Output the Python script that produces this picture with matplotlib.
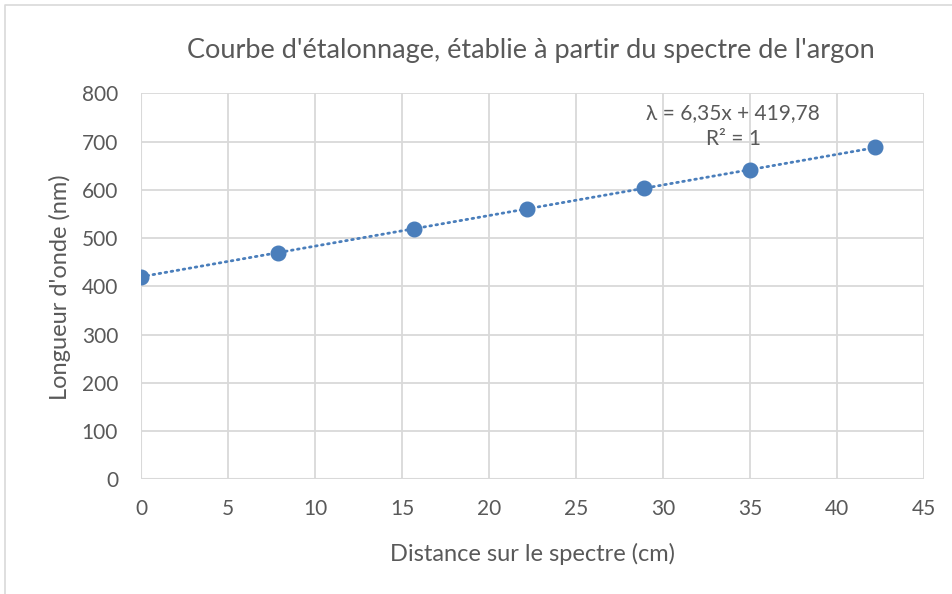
import numpy as np
import matplotlib
matplotlib.use("Agg")
import matplotlib.pyplot as plt
from matplotlib.lines import Line2D

# argon lines
distance_cm = [0, 7.9, 15.7, 22.2, 28.9, 35.0, 42.2]
wavelength_nm = [420, 470, 519, 561, 603, 641, 688]

x_ticks = [0, 5, 10, 15, 20, 25, 30, 35, 40, 45]
y_ticks = [0, 100, 200, 300, 400, 500, 600, 700, 800]

title = "Courbe d'étalonnage, établie à partir du spectre de l'argon"
xlabel = "Distance sur le spectre (cm)"
ylabel = "Longueur d'onde (nm)"
equation = "λ = 6,35x + 419,78\nR² = 1"

plt.rcParams['font.family'] = ['Lato', 'DejaVu Sans']
text_col = '#595959'
grid_col = '#d9d9d9'
blue = '#4a7ebb'

W, H = 952, 594
fig = plt.figure(figsize=(W / 100, H / 100), dpi=100)
ax = fig.add_axes([141 / W, 1 - 479.3 / H, 783 / W, 386 / H])

# chart frame (cut off at right and bottom)
fig.add_artist(Line2D([4.5 / W, 4.5 / W, 1.0], [0.0, 1 - 4.5 / H, 1 - 4.5 / H],
                      transform=fig.transFigure, color=grid_col, lw=1.2))

# linear trend line
slope, intercept = np.polyfit(distance_cm, wavelength_nm, 1)
xs = np.array([min(distance_cm), max(distance_cm)])
ax.plot(xs, slope * xs + intercept, color=blue, lw=2.0, linestyle=(0, (0.6, 1.6)),
        dash_capstyle='round', zorder=3)
ax.plot(distance_cm, wavelength_nm, 'o', color=blue, markersize=10.5, zorder=4)

ax.set_xlim(0, 45)
ax.set_ylim(0, 800)
ax.set_xticks(x_ticks)
ax.set_yticks(y_ticks)
ax.grid(True, color=grid_col, lw=1.3)
ax.set_axisbelow(True)
for s in ax.spines.values():
    s.set_visible(False)
ax.axhline(0, color=grid_col, lw=1.5, zorder=2)
ax.axvline(0, color=grid_col, lw=1.5, zorder=2)
ax.tick_params(length=0, labelsize=15, colors=text_col)
ax.tick_params(axis='y', pad=16.5)
ax.tick_params(axis='x', pad=14)

fig.text(532 / W, 1 - 561 / H, xlabel, fontsize=17, color=text_col,
         ha='center', va='baseline')
fig.text(60 / W, 1 - 287 / H, ylabel, fontsize=17, color=text_col,
         ha='center', va='center', rotation=90)
fig.text(531 / W, 1 - 58 / H, title, fontsize=19.5, color=text_col,
         ha='center', va='baseline')
fig.text(733 / W, 1 - 145 / H, equation, fontsize=15, color=text_col,
         ha='center', va='baseline', linespacing=1.4)

fig.savefig("out.png", dpi=100)
